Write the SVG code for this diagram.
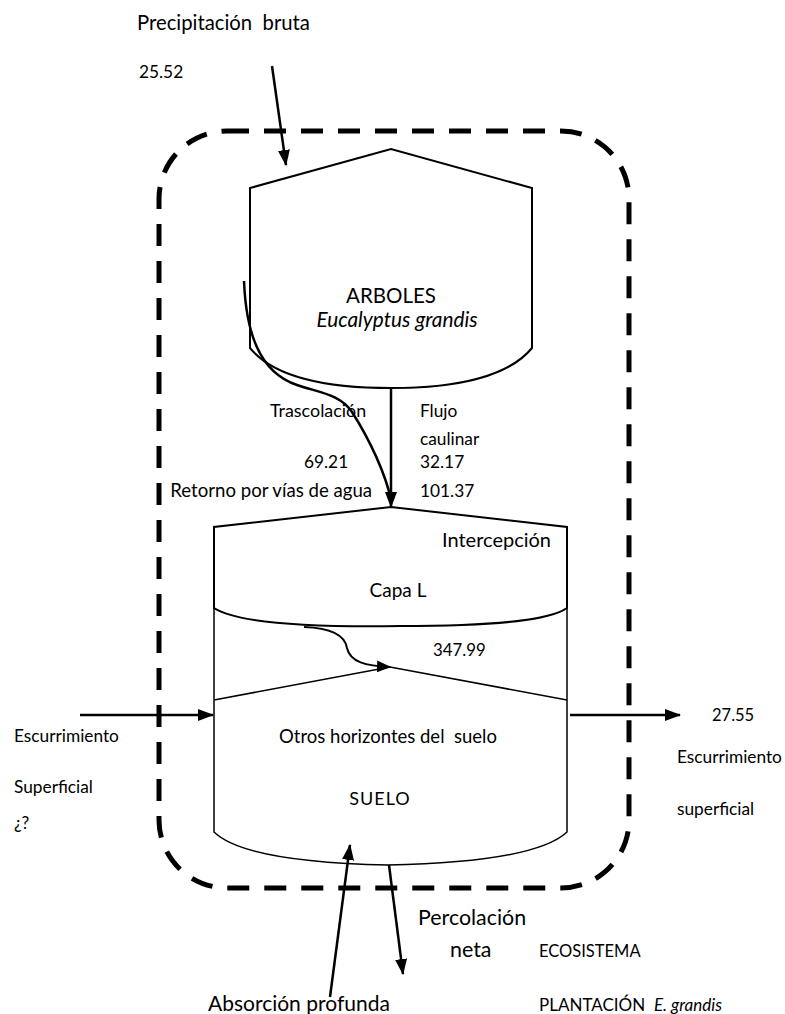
<svg xmlns="http://www.w3.org/2000/svg" width="785" height="1014" viewBox="0 0 785 1014">
<style>
text{font-family:Lato,"Liberation Sans",sans-serif;fill:#000;font-size:17.3px}
.sm{font-size:16.5px}
.it{font-style:italic}
.shape{fill:none;stroke:#000;stroke-width:2}
.thin{fill:none;stroke:#000;stroke-width:1.5}
.conn{fill:none;stroke:#000;stroke-width:2.5}
.boundary{fill:none;stroke:#000;stroke-width:5;stroke-dasharray:22 15}
</style>
<defs>
<marker id="ah" markerWidth="16" markerHeight="12" refX="15" refY="6" orient="auto" markerUnits="userSpaceOnUse"><path d="M0,0 L16,6 L0,12 z" fill="#000"/></marker>
<marker id="ahs" markerWidth="14" markerHeight="12" refX="13" refY="6" orient="auto" markerUnits="userSpaceOnUse"><path d="M0,0 L14,6 L0,12 z" fill="#000"/></marker>
</defs>
<rect width="785" height="1014" fill="#fff"/>

<g id="ecosistema">
<rect class="boundary" x="159" y="131" width="470" height="757" rx="68" ry="68"/>
</g>

<g id="arboles">
<path class="shape" d="M250,348 L250,188 L391,149 L532,188 L532,348 C510,375 460,388 391,388 C320,388 272,375 250,348 Z"/>
<text x="391" y="303" text-anchor="middle" style="font-size:20.5px">ARBOLES</text>
<text x="397" y="327" text-anchor="middle" class="it" style="font-size:20.8px">Eucalyptus grandis</text>
</g>

<g id="suelo">
<path class="thin" d="M214,527 L214,832 Q245,862 388,865 Q535,862 567,832 L567,527"/>
<path class="thin" d="M214,700 L390,667 L567,700"/>
<text x="388" y="743" text-anchor="middle" style="font-size:18.5px">Otros horizontes del&#160;&#160;suelo</text>
<text x="380" y="805" text-anchor="middle" style="font-size:18px;letter-spacing:1px">SUELO</text>
</g>

<g id="capaL">
<path class="shape" d="M214,608 L214,527 L391,507 L567,527 L567,608 C550,620 500,626 400,626 C330,627 240,625 214,608 Z"/>
<text x="398" y="597" text-anchor="middle" style="font-size:19px">Capa L</text>
<text x="442" y="547" style="font-size:20px">Intercepción</text>
</g>

<g id="connectors">
<path class="conn" d="M272,66 L286,165" marker-end="url(#ah)"/>
<path class="conn" d="M391,388 L391,507" marker-end="url(#ah)"/>
<path class="conn" d="M244,281 C246,330 258,372 297,385 C320,393 340,394 352,412 C370,440 386,475 391,500"/>
<path class="conn" style="stroke-width:2" d="M304,627 C332,628 345,636 347,648 C350,662 366,666 390,667" marker-end="url(#ahs)"/>
<path class="conn" d="M80,715 L213,715" marker-end="url(#ah)"/>
<path class="conn" d="M570,715 L680,715" marker-end="url(#ah)"/>
<path class="conn" d="M330,997 L350,845" marker-end="url(#ah)"/>
<path class="conn" d="M389,865 L403,974" marker-end="url(#ah)"/>
</g>

<g id="labels">
<text x="137" y="30" style="font-size:20.3px">Precipitación&#160;&#160;bruta</text>
<text x="139" y="78">25.52</text>
<text x="270" y="417" style="font-size:17.9px">Trascolación</text>
<text x="420" y="417">Flujo</text>
<text x="420" y="445">caulinar</text>
<text x="304" y="468">69.21</text>
<text x="420" y="468">32.17</text>
<text x="372" y="497" text-anchor="end" style="font-size:18.6px">Retorno por vías de agua</text>
<text x="420" y="497">101.37</text>
<text x="433" y="656" style="font-size:16.8px">347.99</text>
<text x="14" y="742">Escurrimiento</text>
<text x="14" y="793">Superficial</text>
<text x="14" y="829">¿?</text>
<text x="712" y="721" style="font-size:16.5px">27.55</text>
<text x="677" y="763">Escurrimiento</text>
<text x="677" y="815">superficial</text>
<text x="418" y="925" style="font-size:21.4px">Percolación</text>
<text x="450" y="957" style="font-size:21.4px">neta</text>
<text x="539" y="957" class="sm">ECOSISTEMA</text>
<text x="539" y="1011" style="font-size:17px">PLANTACIÓN&#160;&#160;<tspan class="it">E. grandis</tspan></text>
<text x="208" y="1011" style="font-size:21px">Absorción profunda</text>
</g>
</svg>
